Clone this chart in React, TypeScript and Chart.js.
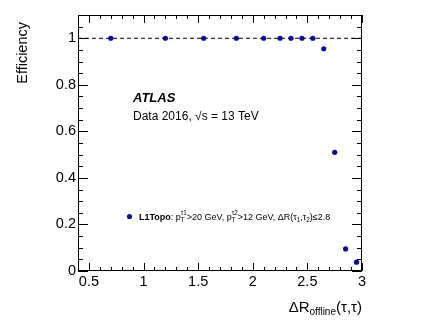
import React, { useEffect, useRef } from "react";
import { Chart, registerables } from "chart.js";

Chart.register(...registerables);

const xValues = [0.7, 1.2, 1.55, 1.85, 2.1, 2.25, 2.35, 2.45, 2.55, 2.65, 2.75, 2.85, 2.95];
const efficiency = [1, 1, 1, 1, 1, 1, 1, 1, 1, 0.955, 0.51, 0.095, 0.038];
const xTicks = [0.5, 1, 1.5, 2, 2.5, 3];
const yTicks = [0, 0.2, 0.4, 0.6, 0.8, 1];
const xRange = [0.4, 3.0];
const yRange = [0, 1.1];
const referenceLevel = 1;

const FONT = "'Liberation Sans', Arial, Helvetica, sans-serif";
const MARKER = "#0b0b9c";

type Seg = { t: string; size: number; bold?: boolean; italic?: boolean; dy?: number; sub?: string; sup?: string };

function font(size: number, bold?: boolean, italic?: boolean) {
  return `${italic ? "italic " : ""}${bold ? "bold " : ""}${size}px ${FONT}`;
}

function segWidth(ctx: CanvasRenderingContext2D, segs: Seg[]) {
  let w = 0;
  for (const s of segs) {
    ctx.font = font(s.size, s.bold, s.italic);
    w += ctx.measureText(s.t).width;
    if (s.sub !== undefined || s.sup !== undefined) {
      ctx.font = font(s.size * 0.7);
      const a = s.sub ? ctx.measureText(s.sub).width : 0;
      const b = s.sup ? ctx.measureText(s.sup).width : 0;
      w += Math.max(a, b);
    }
  }
  return w;
}

function drawSegs(ctx: CanvasRenderingContext2D, segs: Seg[], x: number, y: number) {
  let cx = x;
  ctx.textBaseline = "alphabetic";
  ctx.textAlign = "left";
  for (const s of segs) {
    ctx.font = font(s.size, s.bold, s.italic);
    ctx.fillText(s.t, cx, y + (s.dy || 0));
    cx += ctx.measureText(s.t).width;
    if (s.sub !== undefined || s.sup !== undefined) {
      const fs = s.size * 0.7;
      ctx.font = font(fs);
      let a = 0, b = 0;
      if (s.sub) { ctx.fillText(s.sub, cx, y + s.size * 0.3); a = ctx.measureText(s.sub).width; }
      if (s.sup) { ctx.fillText(s.sup, cx, y - s.size * 0.45); b = ctx.measureText(s.sup).width; }
      cx += Math.max(a, b);
    }
  }
}

const framePlugin = {
  id: "rootFrame",
  afterDraw(chart: any) {
    const ctx: CanvasRenderingContext2D = chart.ctx;
    const { left, right, top, bottom } = chart.chartArea;
    const xs = chart.scales.x;
    const ys = chart.scales.y;
    ctx.save();
    ctx.strokeStyle = "#000";
    ctx.lineWidth = 1;
    ctx.strokeRect(Math.round(left) + 0.5, Math.round(top) + 0.5, Math.round(right - left) - 1, Math.round(bottom - top) - 1);
    ctx.beginPath();
    for (let i = 4; i <= 30; i++) {
      const v = i / 10;
      const px = Math.round(xs.getPixelForValue(v)) + 0.5;
      const major = i % 5 === 0;
      const len = major ? 8 : 4;
      ctx.moveTo(px, bottom);
      ctx.lineTo(px, bottom - len);
      ctx.moveTo(px, top);
      ctx.lineTo(px, top + len);
    }
    for (let i = 0; i <= 22; i++) {
      const v = i * 0.05;
      const py = Math.round(ys.getPixelForValue(v)) + 0.5;
      const major = i % 4 === 0;
      const len = major ? 10 : 5;
      ctx.moveTo(left, py);
      ctx.lineTo(left + len, py);
      ctx.moveTo(right, py);
      ctx.lineTo(right - len, py);
    }
    ctx.stroke();

    ctx.fillStyle = "#000";
    drawSegs(ctx, [{ t: "ATLAS", size: 13, bold: true, italic: true }], 133, 102);
    drawSegs(ctx, [{ t: "Data 2016, \u221As = 13 TeV", size: 12 }], 133, 120);

    ctx.fillStyle = MARKER;
    ctx.beginPath();
    ctx.arc(129.5, 216.5, 2.6, 0, Math.PI * 2);
    ctx.fill();
    ctx.fillStyle = "#000";
    const ls = 9;
    drawSegs(
      ctx,
      [
        { t: "L1Topo", size: ls, bold: true },
        { t: ": p", size: ls, sub: "T", sup: "\u03C41" },
        { t: ">20 GeV, p", size: ls, sub: "T", sup: "\u03C42" },
        { t: ">12 GeV, \u0394R(\u03C4", size: ls, sub: "1" },
        { t: ",\u03C4", size: ls, sub: "2" },
        { t: ")\u22642.8", size: ls },
      ],
      139,
      219.5
    );

    const xt: Seg[] = [
      { t: "\u0394R", size: 15 },
      { t: "offline", size: 10, dy: 3 },
      { t: "(\u03C4,\u03C4)", size: 15 },
    ];
    const w = segWidth(ctx, xt);
    drawSegs(ctx, xt, right - w, 312);

    ctx.save();
    ctx.translate(27, top + 7);
    ctx.rotate(-Math.PI / 2);
    ctx.font = font(14.5);
    ctx.textAlign = "right";
    ctx.textBaseline = "alphabetic";
    ctx.fillText("Efficiency", 0, 0);
    ctx.restore();
    ctx.restore();
  },
};

export default function App() {
  const ref = useRef<HTMLCanvasElement>(null);
  useEffect(() => {
    if (!ref.current) return;
    const chart = new Chart(ref.current, {
      type: "scatter",
      data: {
        datasets: [
          {
            data: [
              { x: xRange[0], y: referenceLevel },
              { x: xRange[1], y: referenceLevel },
            ],
            showLine: true,
            borderColor: "#000",
            borderWidth: 1,
            borderDash: [4, 3],
            pointRadius: 0,
            order: 2,
          },
          {
            data: xValues.map((x, i) => ({ x, y: efficiency[i] })),
            pointRadius: 2.6,
            pointBackgroundColor: MARKER,
            pointBorderColor: MARKER,
            pointBorderWidth: 0,
            order: 1,
          },
        ],
      },
      options: {
        animation: false,
        responsive: false,
        devicePixelRatio: 1,
        layout: { padding: { left: 0, right: 70, top: 15, bottom: 0 } },
        plugins: { legend: { display: false }, tooltip: { enabled: false } },
        scales: {
          x: {
            type: "linear",
            min: xRange[0],
            max: xRange[1],
            border: { display: false },
            grid: { display: false, drawTicks: false },
            afterBuildTicks: (s: any) => {
              s.ticks = xTicks.map((v) => ({ value: v }));
            },
            afterFit: (s: any) => {
              s.height = 53;
            },
            ticks: {
              padding: 2,
              color: "#000",
              maxRotation: 0,
              autoSkip: false,
              font: { family: FONT, size: 14.5 },
              callback: (v: any) => String(Math.round(Number(v) * 100) / 100),
            },
          },
          y: {
            type: "linear",
            min: yRange[0],
            max: yRange[1],
            border: { display: false },
            grid: { display: false, drawTicks: false },
            afterBuildTicks: (s: any) => {
              s.ticks = yTicks.map((v) => ({ value: v }));
            },
            afterFit: (s: any) => {
              s.width = 78;
            },
            ticks: {
              padding: 2,
              color: "#000",
              autoSkip: false,
              font: { family: FONT, size: 14.5 },
              callback: (v: any) => String(Math.round(Number(v) * 100) / 100),
            },
          },
        },
      },
      plugins: [framePlugin],
    } as any);
    return () => chart.destroy();
  }, []);
  return (
    <div style={{ position: "fixed", left: 0, top: 0, width: 432, height: 324, background: "#fff" }}>
      <canvas ref={ref} width={432} height={324} style={{ width: 432, height: 324, display: "block" }} />
    </div>
  );
}
